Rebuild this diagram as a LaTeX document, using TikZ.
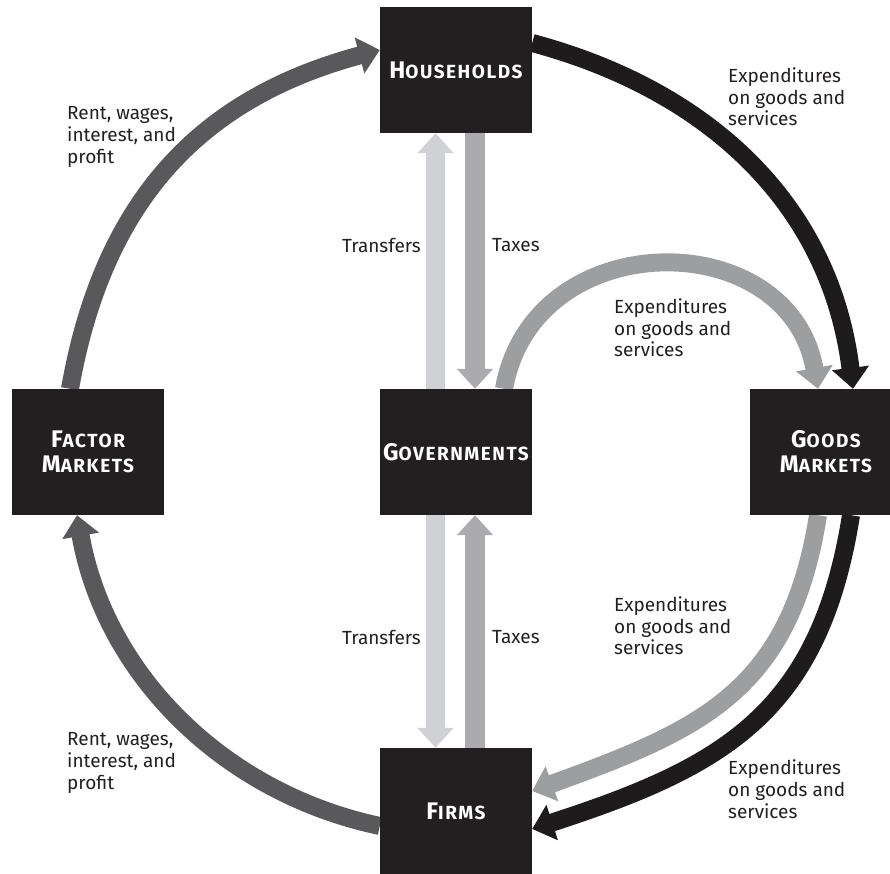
\documentclass[tikz,border=0pt]{standalone}
\usepackage{fontspec}
\setmainfont{Fira Sans}
\usetikzlibrary{arrows.meta}
\pgfdeclarelayer{back}
\pgfsetlayers{back,main}
\definecolor{boxfill}{HTML}{231F20}
\definecolor{flowdark}{HTML}{59595B}
\definecolor{flowblack}{HTML}{1E1B1C}
\definecolor{flowgray}{HTML}{9D9EA0}
\definecolor{taxgray}{HTML}{ABABAF}
\definecolor{transgray}{HTML}{CFD1D4}
\newcommand{\smc}[2]{{\fontsize{24}{25}\selectfont #1}{\fontsize{19}{25}\selectfont\addfontfeature{LetterSpace=8}#2}}

\begin{document}
\begin{tikzpicture}[x=1pt, y=1pt,
  sector/.style={fill=boxfill, text=white, minimum width=152pt, minimum height=126pt, inner sep=0pt, align=center, font=\bfseries\fontsize{19}{25}\selectfont},
  flow/.style={line width=18pt, -{Triangle[width=36pt, length=21pt]}},
  vflow/.style={line width=19.5pt, -{Triangle[width=35pt, length=20pt]}},
  note/.style={inner sep=0pt, align=left, text=boxfill, font=\fontsize{19}{21.7}\selectfont}]
  \useasboundingbox (0,0) rectangle (890,873);
  \node [sector] (hh) at (456,803) {\smc{H}{OUSEHOLDS}};
  \node [sector] (factor) at (88,421) {\smc{F}{ACTOR}\\\smc{M}{ARKETS}};
  \node [sector] (gov) at (456,421) {\smc{G}{OVERNMENTS}};
  \node [sector] (goods) at (826,421) {\smc{G}{OODS}\\\smc{M}{ARKETS}};
  \node [sector] (firms) at (456,62) {\smc{F}{IRMS}};
  \begin{pgfonlayer}{back}
    \draw [flow, flowdark] ([xshift=-18pt]factor.north) to [out=80, in=195, looseness=1.05] ([yshift=20pt]hh.west);
    \draw [flow, flowdark] ([yshift=-15pt]firms.west) to [out=168, in=-80, looseness=0.95] ([xshift=-11pt]factor.south);
    \draw [flow, flowblack] ([yshift=27pt]hh.east) to [out=-15, in=97] ([xshift=27pt]goods.north);
    \draw [flow, flowgray] ([xshift=48pt]gov.north) to [out=80, in=100, looseness=1.37] ([xshift=-8pt]goods.north);
    \draw [flow, flowgray] ([xshift=-8pt]goods.south) to [out=-99, in=20, looseness=1.15] ([yshift=20pt]firms.east);
    \draw [flow, flowblack] ([xshift=25pt]goods.south) to [out=-99, in=18, looseness=1.15] ([yshift=-18pt]firms.east);
    \draw [vflow, transgray] ([xshift=-20.5pt]gov.north) -- ([xshift=-20.5pt]hh.south);
    \draw [vflow, taxgray] ([xshift=19pt]hh.south) -- ([xshift=19pt]gov.north);
    \draw [vflow, transgray] ([xshift=-20.5pt]gov.south) -- ([xshift=-20.5pt]firms.north);
    \draw [vflow, taxgray] ([xshift=19pt]firms.north) -- ([xshift=19pt]gov.south);
  \end{pgfonlayer}
  \node [note, anchor=west] at (67,736) {Rent, wages,\\interest, and\\profit};
  \node [note, anchor=west] at (67,110) {Rent, wages,\\interest, and\\profit};
  \node [note, anchor=west] at (728,776) {Expenditures\\on goods and\\services};
  \node [note, anchor=west] at (614,545) {Expenditures\\on goods and\\services};
  \node [note, anchor=west] at (614,247) {Expenditures\\on goods and\\services};
  \node [note, anchor=west] at (728,84) {Expenditures\\on goods and\\services};
  \node [note, anchor=east] at (421,628) {Transfers};
  \node [note, anchor=west] at (492,628) {Taxes};
  \node [note, anchor=east] at (421,236) {Transfers};
  \node [note, anchor=west] at (492,236) {Taxes};
\end{tikzpicture}
\end{document}
